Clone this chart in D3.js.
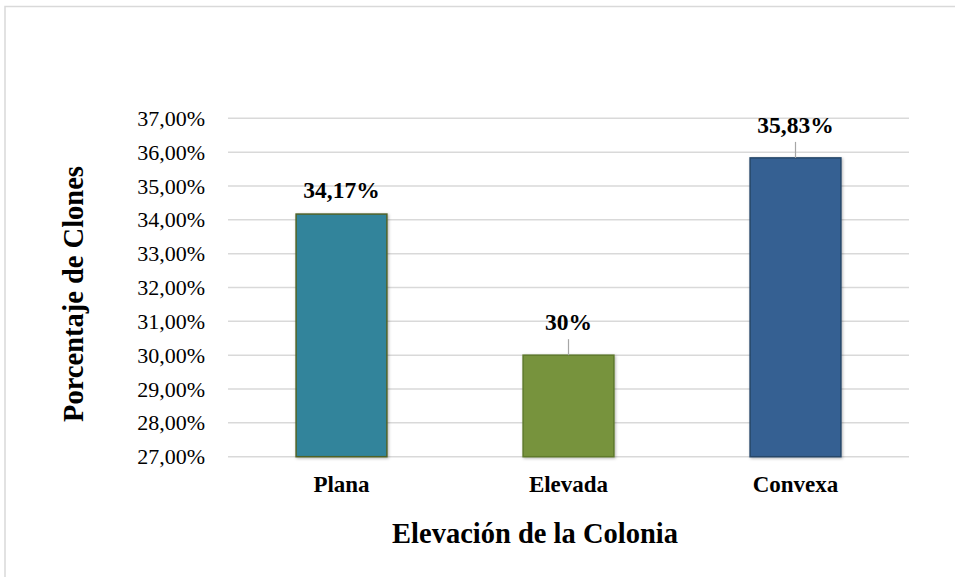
<!DOCTYPE html>
<html>
<head>
<meta charset="utf-8">
<script src="https://cdn.jsdelivr.net/npm/d3@7"></script>
<style>
  html, body { margin: 0; padding: 0; background: #fff; }
  svg, svg text { font-family: "Liberation Serif", "Times New Roman", serif; }
</style>
</head>
<body>
<svg id="chart" width="955" height="577"></svg>
<script>
// Colony elevation categories and share of clones (%)
const categories = ["Plana", "Elevada", "Convexa"];
const values = [34.17, 30, 35.83];
const valueLabels = ["34,17%", "30%", "35,83%"];
const barColors = ["#31849b", "#77933c", "#366092"];
const barStrokes = ["#4f6228", "#5f7a2c", "#254669"];
const yTicks = [27, 28, 29, 30, 31, 32, 33, 34, 35, 36, 37];
const showLeader = [false, true, true];

const svg = d3.select("#chart");
const W = 955, H = 577;
const margin = { left: 228, right: 46, top: 118.3, bottom: 120.3 };
const serif = '"Liberation Serif", "Times New Roman", serif';

// outer frame
svg.append("rect")
  .attr("x", 5).attr("y", 6.5)
  .attr("width", W + 10).attr("height", H + 10)
  .attr("fill", "none").attr("stroke", "#d9d9d9").attr("stroke-width", 1.5);

const x = d3.scaleBand()
  .domain(categories)
  .range([margin.left, W - margin.right])
  .paddingInner(0.6).paddingOuter(0.3);

const y = d3.scaleLinear()
  .domain([27, 37])
  .range([H - margin.bottom, margin.top]);

const fmt = v => v.toFixed(2).replace(".", ",") + "%";

// gridlines
svg.append("g")
  .selectAll("line")
  .data(yTicks)
  .join("line")
  .attr("x1", margin.left).attr("x2", W - margin.right)
  .attr("y1", d => y(d)).attr("y2", d => y(d))
  .attr("stroke", "#d9d9d9").attr("stroke-width", 1.5);

// y axis labels
const yAxis = d3.axisLeft(y).tickValues(yTicks).tickFormat(fmt).tickSize(0).tickPadding(0);
const gy = svg.append("g").attr("transform", `translate(205,0)`).call(yAxis)
  .attr("font-family", null).attr("font-size", null);
gy.select(".domain").remove();
gy.selectAll("text")
  .style("font-family", serif)
  .style("font-size", "22px").attr("fill", "#000");

// soft shadow for bars
const defs = svg.append("defs");
const f = defs.append("filter").attr("id", "shadow")
  .attr("x", "-20%").attr("y", "-20%").attr("width", "140%").attr("height", "140%");
f.append("feDropShadow").attr("dx", 1).attr("dy", 1).attr("stdDeviation", 1.5)
  .attr("flood-color", "#000").attr("flood-opacity", 0.3);

const data = categories.map((c, i) => ({ c, v: values[i], i }));

// bars
svg.append("g")
  .selectAll("rect")
  .data(data)
  .join("rect")
  .attr("x", d => x(d.c))
  .attr("y", d => y(d.v))
  .attr("width", x.bandwidth())
  .attr("height", d => y(27) - y(d.v))
  .attr("fill", d => barColors[d.i])
  .attr("stroke", d => barStrokes[d.i])
  .attr("stroke-width", 1.5)
  .attr("filter", "url(#shadow)");

// value labels and leader lines
const lab = svg.append("g");
data.forEach(d => {
  const cx = x(d.c) + x.bandwidth() / 2;
  const top = y(d.v);
  const baseline = top - (showLeader[d.i] ? 25 : 16.5);
  if (showLeader[d.i]) {
    lab.append("line")
      .attr("x1", cx).attr("x2", cx)
      .attr("y1", baseline + 9).attr("y2", top)
      .attr("stroke", "#a6a6a6").attr("stroke-width", 1.2);
  }
  lab.append("text")
    .attr("x", cx).attr("y", baseline)
    .attr("text-anchor", "middle")
    .style("font-family", serif)
    .style("font-size", "23.5px").attr("font-weight", "bold")
    .text(valueLabels[d.i]);
});

// x category labels
svg.append("g")
  .selectAll("text")
  .data(categories)
  .join("text")
  .attr("x", d => x(d) + x.bandwidth() / 2)
  .attr("y", 492)
  .attr("text-anchor", "middle")
  .style("font-family", serif)
  .style("font-size", "23px").attr("font-weight", "bold")
  .text(d => d);

// axis titles
svg.append("text")
  .attr("x", 535)
  .attr("y", 543)
  .attr("text-anchor", "middle")
  .style("font-family", serif)
  .style("font-size", "28.5px").attr("font-weight", "bold")
  .text("Elevación de la Colonia");

svg.append("text")
  .attr("transform", `translate(83,294) rotate(-90)`)
  .attr("text-anchor", "middle")
  .style("font-family", serif)
  .style("font-size", "28.5px").attr("font-weight", "bold")
  .text("Porcentaje de Clones");
</script>
</body>
</html>
